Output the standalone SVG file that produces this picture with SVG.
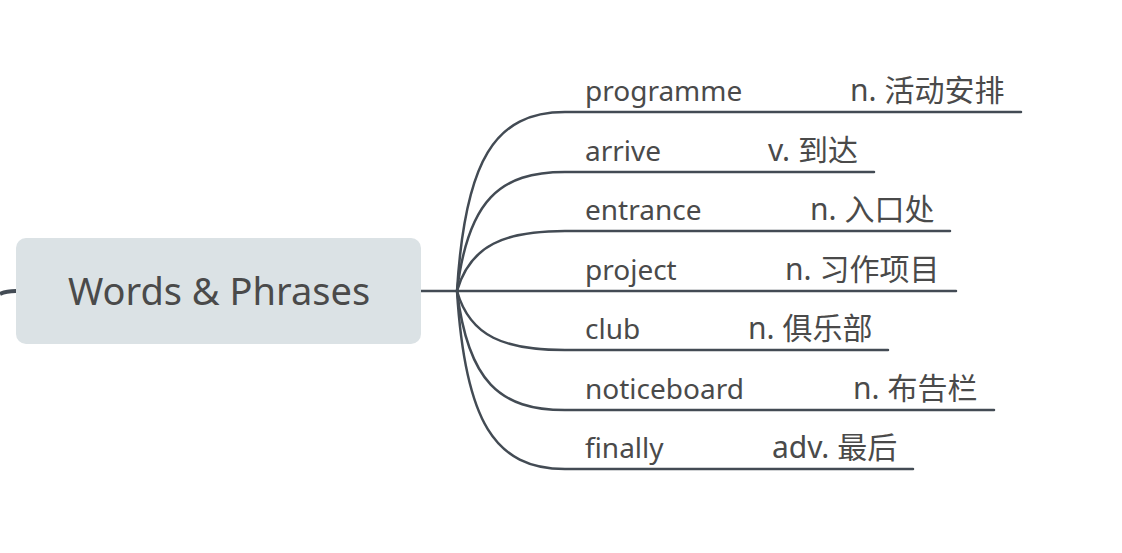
<svg xmlns="http://www.w3.org/2000/svg" width="1122" height="553" viewBox="0 0 1122 553">
<style>
.ln{fill:none;stroke:#434b54;stroke-width:2.5;stroke-linecap:round}
.t{font-family:"Noto Sans","Noto Sans CJK SC",sans-serif;font-size:28px;fill:#4a4a4a}
.c{font-family:"Noto Sans","Noto Sans CJK SC",sans-serif;font-size:30px;fill:#4a4a4a}
.title{font-family:"Noto Sans",sans-serif;font-size:38px;fill:#4a4a4a;text-anchor:middle}
</style>
<rect width="1122" height="553" fill="#ffffff"/>
<g id="connectors">
<path d="M0,294 Q6,291 16,291" fill="none" stroke="#434b54" stroke-width="4"/>
<path class="ln" d="M421,291 H457"/>
<path class="ln" d="M457,291 C465,160 495,112 565,112 H1021"/>
<path class="ln" d="M457,291 C468,200 500,172 565,172 H874"/>
<path class="ln" d="M457,291 C470,245 505,231 565,231 H950"/>
<path class="ln" d="M457,291 H956"/>
<path class="ln" d="M457,291 C470,337 505,350 565,350 H888"/>
<path class="ln" d="M457,291 C468,382 500,410 565,410 H994"/>
<path class="ln" d="M457,291 C465,422 495,469 565,469 H913"/>
</g>
<g id="root">
<rect x="16" y="238" width="405" height="106" rx="10" fill="#dbe2e5"/>
<text class="title" x="219" y="305">Words &amp; Phrases</text>
</g>
<g id="n1"><text class="t" x="585" y="101">programme</text><text class="c" x="850" y="101">n. 活动安排</text></g>
<g id="n2"><text class="t" x="585" y="161">arrive</text><text class="c" x="768" y="161">v. 到达</text></g>
<g id="n3"><text class="t" x="585" y="220">entrance</text><text class="c" x="810" y="220">n. 入口处</text></g>
<g id="n4"><text class="t" x="585" y="280">project</text><text class="c" x="785" y="280">n. 习作项目</text></g>
<g id="n5"><text class="t" x="585" y="339">club</text><text class="c" x="748" y="339">n. 俱乐部</text></g>
<g id="n6"><text class="t" x="585" y="399">noticeboard</text><text class="c" x="853" y="399">n. 布告栏</text></g>
<g id="n7"><text class="t" x="585" y="458">finally</text><text class="c" x="772" y="458">adv. 最后</text></g>
</svg>
